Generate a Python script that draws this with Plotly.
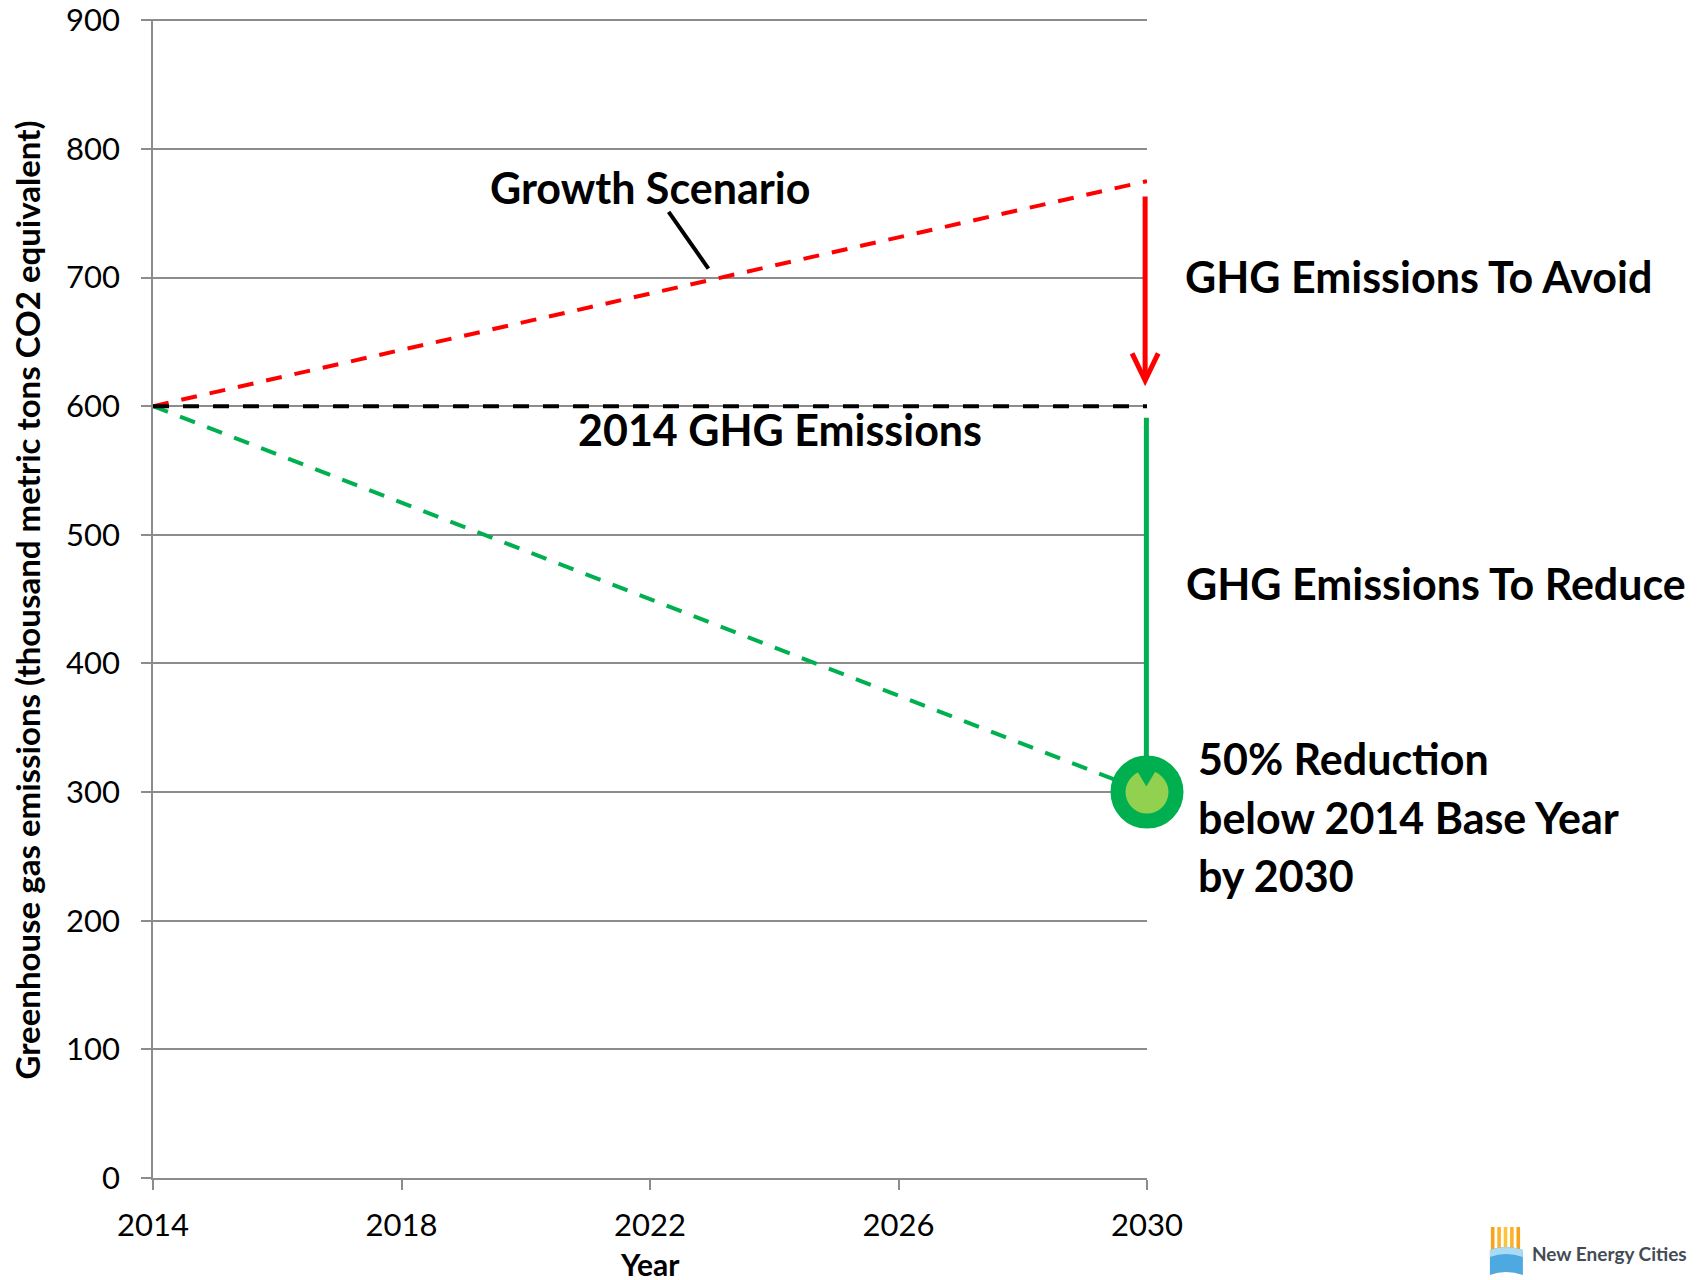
import plotly.graph_objects as go

years = [2014, 2030]
growth = [600, 775]
baseline = [600, 600]
target = [600, 300]
x_ticks = [2014, 2018, 2022, 2026, 2030]
y_ticks = [0, 100, 200, 300, 400, 500, 600, 700, 800, 900]

FONT = "Lato"
RED = "#FF0000"
GREEN = "#00B050"
LIGHT_GREEN = "#92D050"
GRID = "#8C8C8C"

X0, X1 = 2014, 2030
Y0, Y1 = 0, 901

fig = go.Figure()

fig.add_trace(go.Scatter(x=years, y=growth, mode="lines", cliponaxis=False,
                         line=dict(color=RED, width=4, dash="16px,13px"), showlegend=False))
fig.add_trace(go.Scatter(x=years, y=target, mode="lines", cliponaxis=False,
                         line=dict(color=GREEN, width=4, dash="16px,13px"), showlegend=False))
fig.add_trace(go.Scatter(x=years, y=baseline, mode="lines", cliponaxis=False,
                         line=dict(color="black", width=4, dash="16px,14px"), showlegend=False))
# target marker
fig.add_trace(go.Scatter(x=[years[-1]], y=[target[-1]], mode="markers", cliponaxis=False,
                         marker=dict(size=58, color=LIGHT_GREEN, line=dict(color=GREEN, width=15)),
                         showlegend=False))


def dx(v):
    return (v - X0) / (X1 - X0)


def dy(v):
    return (v - Y0) / (Y1 - Y0)


# page-pixel geometry of the plot area (page has an 8px body margin)
PL, PR, PT, PB = 152.7, 1147.0, 18.7, 1178.0


def px2paper_x(px):
    return (px - PL) / (PR - PL)


def px2paper_y(py):
    return (PB - py) / (PB - PT)


end = years[-1]
shapes = [
    # red arrow (avoid)
    dict(type="line", xref="paper", yref="paper", x0=dx(end - 0.03), x1=dx(end - 0.03),
         y0=dy(763), y1=dy(622), line=dict(color=RED, width=5), layer="above"),
    dict(type="path", xref="paper", yref="paper",
         path=f"M {dx(end-0.24)},{dy(641)} L {dx(end-0.03)},{dy(620)} L {dx(end+0.18)},{dy(641)}",
         line=dict(color=RED, width=5), layer="above"),
    # green arrow (reduce)
    dict(type="line", xref="paper", yref="paper", x0=dx(end - 0.01), x1=dx(end - 0.01),
         y0=dy(591), y1=dy(312), line=dict(color=GREEN, width=5), layer="above"),
    dict(type="path", xref="paper", yref="paper",
         path=f"M {dx(end-0.17)},{dy(318)} L {dx(end-0.01)},{dy(305)} L {dx(end+0.15)},{dy(318)} Z",
         fillcolor=GREEN, line=dict(color=GREEN, width=1), layer="above"),
    # Growth scenario pointer
    dict(type="line", xref="x", yref="y", x0=2022.3, y0=751, x1=2022.94, y1=707,
         line=dict(color="black", width=4), layer="above"),
]

# logo (New Energy Cities)
ray_cols = ["#F7A21B", "#F9B42A", "#FBC43A", "#F9B42A", "#F7A21B"]
for i, c in enumerate(ray_cols):
    x0 = 1491 + i * 6.4
    shapes.append(dict(type="rect", xref="paper", yref="paper",
                       x0=px2paper_x(x0), x1=px2paper_x(x0 + 3.6),
                       y0=px2paper_y(1252), y1=px2paper_y(1227),
                       fillcolor=c, line=dict(width=0), layer="above"))
shapes.append(dict(type="path", xref="paper", yref="paper",
                   path=(f"M {px2paper_x(1490)},{px2paper_y(1250)} "
                         f"Q {px2paper_x(1506)},{px2paper_y(1244)} {px2paper_x(1523)},{px2paper_y(1250)} "
                         f"L {px2paper_x(1523)},{px2paper_y(1275)} "
                         f"Q {px2paper_x(1506)},{px2paper_y(1269)} {px2paper_x(1490)},{px2paper_y(1275)} Z"),
                   fillcolor="#4DA9E0", line=dict(width=0), layer="above"))
shapes.append(dict(type="path", xref="paper", yref="paper",
                   path=(f"M {px2paper_x(1490)},{px2paper_y(1250)} "
                         f"Q {px2paper_x(1506)},{px2paper_y(1244)} {px2paper_x(1523)},{px2paper_y(1250)} "
                         f"L {px2paper_x(1523)},{px2paper_y(1257)} "
                         f"Q {px2paper_x(1506)},{px2paper_y(1251)} {px2paper_x(1490)},{px2paper_y(1257)} Z"),
                   fillcolor="#A9DBF5", line=dict(width=0), layer="above"))

bold = dict(family=FONT, size=43, color="black")
annotations = [
    dict(text="<b>Growth Scenario</b>", x=2022.0, y=770, xref="x", yref="y",
         showarrow=False, font=bold, xanchor="center", yanchor="middle"),
    dict(text="<b>2014 GHG Emissions</b>", x=2024.1, y=582, xref="x", yref="y",
         showarrow=False, font=bold, xanchor="center", yanchor="middle"),
    dict(text="<b>GHG Emissions To Avoid</b>", x=px2paper_x(1183), y=px2paper_y(276),
         xref="paper", yref="paper", showarrow=False, font=bold, xanchor="left", yanchor="middle"),
    dict(text="<b>GHG Emissions To Reduce</b>", x=px2paper_x(1184), y=px2paper_y(583),
         xref="paper", yref="paper", showarrow=False, font=bold, xanchor="left", yanchor="middle"),
    dict(text="<b>50% Reduction</b>", x=px2paper_x(1196), y=px2paper_y(758),
         xref="paper", yref="paper", showarrow=False, font=bold, xanchor="left", yanchor="middle"),
    dict(text="<b>below 2014 Base Year</b>", x=px2paper_x(1196), y=px2paper_y(817),
         xref="paper", yref="paper", showarrow=False, font=bold, xanchor="left", yanchor="middle"),
    dict(text="<b>by 2030</b>", x=px2paper_x(1196), y=px2paper_y(875),
         xref="paper", yref="paper", showarrow=False, font=bold, xanchor="left", yanchor="middle"),
    dict(text="<b>Greenhouse gas emissions (thousand metric tons CO2 equivalent)</b>",
         x=px2paper_x(27), y=px2paper_y(600), xref="paper", yref="paper", textangle=-90,
         showarrow=False, font=dict(family=FONT, size=33, color="black"),
         xanchor="center", yanchor="middle"),
    dict(text="<b>Year</b>", x=2022, y=px2paper_y(1264), xref="x", yref="paper",
         showarrow=False, font=dict(family=FONT, size=30, color="black"),
         xanchor="center", yanchor="middle"),
    dict(text="<b>New Energy Cities</b>", x=px2paper_x(1530), y=px2paper_y(1254),
         xref="paper", yref="paper", showarrow=False,
         font=dict(family=FONT, size=19, color="#434C55"), xanchor="left", yanchor="middle"),
]

FIG_W, FIG_H, OFF = 1700, 1272, 8
fig.update_layout(
    width=FIG_W, height=FIG_H,
    margin=dict(l=PL - OFF, r=FIG_W - (PR - OFF), t=PT - OFF, b=FIG_H - (PB - OFF),
                autoexpand=False),
    paper_bgcolor="white", plot_bgcolor="white",
    font=dict(family=FONT, size=31, color="black"),
    shapes=shapes, annotations=annotations,
    xaxis=dict(range=[X0, X1], tickvals=x_ticks, ticktext=[str(v) for v in x_ticks],
               automargin=False, ticklabeloverflow="allow",
               showgrid=False, zeroline=False, showline=True, linecolor=GRID, linewidth=1.5,
               ticks="outside", ticklen=10, tickcolor=GRID, tickwidth=1.5,
               ticklabelstandoff=9, tickfont=dict(family=FONT, size=31)),
    yaxis=dict(range=[Y0, Y1], tickvals=y_ticks, showgrid=True, gridcolor=GRID, gridwidth=1.5,
               automargin=False, ticklabeloverflow="allow",
               zeroline=False, showline=True, linecolor=GRID, linewidth=1.5,
               ticks="outside", ticklen=10, tickcolor=GRID, tickwidth=1.5,
               ticklabelstandoff=15, tickfont=dict(family=FONT, size=31)),
)

fig.write_html("out.html")
